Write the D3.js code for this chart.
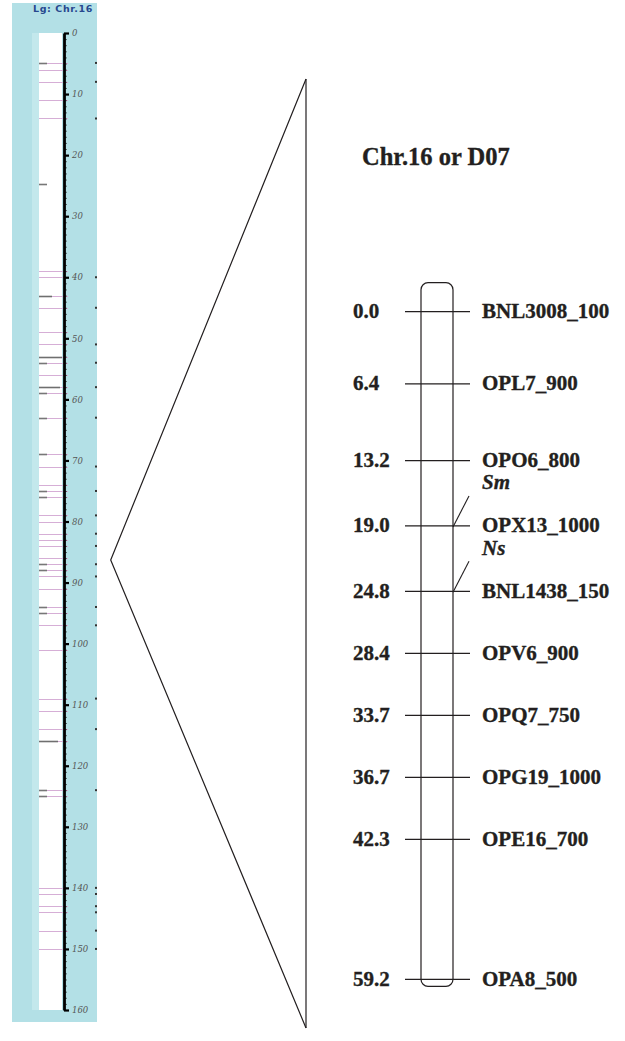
<!DOCTYPE html>
<html>
<head>
<meta charset="utf-8">
<script src="https://cdn.jsdelivr.net/npm/d3@7"></script>
<style>
  body { margin: 0; background: #fff; }
  svg { display: block; }
  .serif { font-family: "Liberation Serif", "Times New Roman", serif; fill: #231f20; stroke: #231f20; stroke-width: 0.35; }
</style>
</head>
<body>
<script>
// left overview panel: whole linkage group (cM)
var overviewTitle = "Lg: Chr.16";
var overviewTicks = d3.range(0, 161, 10);
var overviewLoci = [4.9, 6, 8, 11, 14, 39, 40, 43, 45, 49, 51, 53, 54, 56, 58, 59, 63, 69, 71, 74, 75, 76,
  79, 80, 82, 83, 84, 86, 87, 88, 89, 91, 94, 95, 97, 101, 109, 111, 114, 116, 124, 125,
  140, 141, 143, 144, 147, 150];
var overviewDashes = [4.9, 24.8, 54, 59, 63, 69, 75, 76, 87, 88, 94, 95, 124, 125];
var overviewLongDashes = [43, 53, 58, 116];
var zoomCentre = 86.3; // where the zoom wedge points

// right panel: detailed map
var chrTitle = "Chr.16 or D07";
var markerNames = ["BNL3008_100", "OPL7_900", "OPO6_800", "OPX13_1000", "BNL1438_150",
  "OPV6_900", "OPQ7_750", "OPG19_1000", "OPE16_700", "OPA8_500"];
var markerPos = [0.0, 6.4, 13.2, 19.0, 24.8, 28.4, 33.7, 36.7, 42.3, 59.2];
var qtlNames = ["Sm", "Ns"];
var qtlMarkers = ["OPX13_1000", "BNL1438_150"];

var width = 625, height = 1041;
var svg = d3.select("body").append("svg")
  .attr("width", width)
  .attr("height", height);

// ---------- left panel ----------
var yL = d3.scaleLinear().domain([0, 160]).range([33, 1010]);
var axisX = 64;

svg.append("rect")
  .attr("x", 12).attr("y", 3)
  .attr("width", 85).attr("height", 1019)
  .attr("fill", "#b3e0e6");

svg.append("rect")
  .attr("x", 32).attr("y", 33)
  .attr("width", 7).attr("height", yL(160) - yL(0))
  .attr("fill", "#c3e8ec");

svg.append("rect")
  .attr("x", 39).attr("y", yL(0))
  .attr("width", 23).attr("height", yL(160) - yL(0))
  .attr("fill", "#fff");

svg.append("text")
  .attr("x", 33).attr("y", 12)
  .attr("font-family", "DejaVu Sans, sans-serif")
  .attr("font-weight", "bold")
  .attr("font-size", 9.5)
  .attr("letter-spacing", 0.6)
  .attr("fill", "#27488e")
  .text(overviewTitle);

svg.append("g").selectAll("line")
  .data(overviewLoci)
  .enter().append("line")
  .attr("x1", 39).attr("x2", 68)
  .attr("y1", function(d) { return Math.round(yL(d)) + 0.5; })
  .attr("y2", function(d) { return Math.round(yL(d)) + 0.5; })
  .attr("stroke", "#d6aed6")
  .attr("stroke-width", 1);

svg.append("g").selectAll("line")
  .data(overviewDashes)
  .enter().append("line")
  .attr("x1", 39).attr("x2", 47)
  .attr("y1", function(d) { return Math.round(yL(d)) + 0.5; })
  .attr("y2", function(d) { return Math.round(yL(d)) + 0.5; })
  .attr("stroke", "#777")
  .attr("stroke-width", 1.6);

svg.append("g").selectAll("line")
  .data(overviewLongDashes)
  .enter().append("line")
  .attr("x1", 39).attr("x2", function(d, i) { return [52, 62, 60, 58][i]; })
  .attr("y1", function(d) { return Math.round(yL(d)) + 0.5; })
  .attr("y2", function(d) { return Math.round(yL(d)) + 0.5; })
  .attr("stroke", "#6f6f6f")
  .attr("stroke-width", 1.6);

// bits of clipped labels at the panel edge
svg.append("g").selectAll("rect")
  .data(overviewLoci.filter(function(d, i) { return i % 2 == 0 || d > 130; }))
  .enter().append("rect")
  .attr("x", 95).attr("y", function(d) { return yL(d) - 1; })
  .attr("width", 2).attr("height", 2)
  .attr("fill", "#333");

var minorAxis = d3.axisRight(yL)
  .tickValues(d3.range(0, 161, 1))
  .tickSize(3)
  .tickSizeOuter(0)
  .tickFormat("");
var gMinor = svg.append("g")
  .attr("transform", "translate(" + axisX + ",0)")
  .call(minorAxis);
gMinor.select(".domain").remove();
gMinor.selectAll(".tick line").attr("stroke", "#333").attr("stroke-width", 0.7);

var majorAxis = d3.axisRight(yL)
  .tickValues(overviewTicks)
  .tickSize(5)
  .tickSizeOuter(0)
  .tickPadding(3);
var gMajor = svg.append("g")
  .attr("transform", "translate(" + axisX + ",0)")
  .call(majorAxis);
gMajor.select(".domain").attr("stroke", "#000").attr("stroke-width", 2.8);
gMajor.selectAll(".tick line").attr("stroke", "#000").attr("stroke-width", 2.2);
gMajor.selectAll(".tick text")
  .attr("font-family", "DejaVu Serif, serif")
  .attr("font-style", "italic")
  .attr("font-size", 8.5)
  .attr("fill", "#555");

// ---------- zoom wedge ----------
var wedgeX = 306, wedgeTop = 79, wedgeBottom = 1028;
svg.append("path")
  .attr("d", d3.line()([[wedgeX, wedgeTop], [110.7, yL(zoomCentre)], [wedgeX, wedgeBottom]]))
  .attr("fill", "none")
  .attr("stroke", "#231f20")
  .attr("stroke-width", 1.2);
svg.append("line")
  .attr("x1", wedgeX).attr("x2", wedgeX)
  .attr("y1", wedgeTop).attr("y2", wedgeBottom)
  .attr("stroke", "#231f20")
  .attr("stroke-width", 1.2);

// ---------- right panel ----------
var yR = d3.scaleLinear().domain([0, 59.2]).range([311.7, 979.3]);
var minGap = 62;
var markers = markerPos.map(function(p, i) { return { name: markerNames[i], pos: p, y: yR(p) }; });
for (var i = 1; i < markers.length; i++) {
  markers[i].y = Math.max(markers[i].y, markers[i - 1].y + minGap);
}

svg.append("text")
  .attr("class", "serif")
  .attr("x", 362).attr("y", 165)
  .attr("font-size", 24.5)
  .attr("font-weight", "bold")
  .text(chrTitle);

var chrX = 421, chrW = 32;
var chrTop = markers[0].y - 29, chrBottom = markers[markers.length - 1].y + 7;
svg.append("rect")
  .attr("x", chrX).attr("y", chrTop)
  .attr("width", chrW).attr("height", chrBottom - chrTop)
  .attr("rx", 7).attr("ry", 7)
  .attr("fill", "none")
  .attr("stroke", "#231f20")
  .attr("stroke-width", 1.2);

var gm = svg.append("g").selectAll("g")
  .data(markers)
  .enter().append("g")
  .attr("transform", function(d) { return "translate(0," + d.y + ")"; });

gm.append("line")
  .attr("x1", 405).attr("x2", 470)
  .attr("stroke", "#231f20")
  .attr("stroke-width", 1.2);

gm.append("text")
  .attr("class", "serif")
  .attr("x", 353).attr("y", 6.5)
  .attr("font-size", 21)
  .attr("font-weight", "bold")
  .text(function(d) { return d.pos.toFixed(1); });

gm.append("text")
  .attr("class", "serif")
  .attr("x", 482).attr("y", 6.5)
  .attr("font-size", 21)
  .attr("font-weight", "bold")
  .text(function(d) { return d.name; });

var qtls = qtlNames.map(function(n, i) {
  return { name: n, y: markers.find(function(m) { return m.name == qtlMarkers[i]; }).y };
});
var gq = svg.append("g").selectAll("g")
  .data(qtls)
  .enter().append("g")
  .attr("transform", function(d) { return "translate(0," + d.y + ")"; });
gq.append("line")
  .attr("x1", chrX + chrW).attr("y1", 1)
  .attr("x2", 469).attr("y2", -30)
  .attr("stroke", "#231f20")
  .attr("stroke-width", 1.1);
gq.append("text")
  .attr("class", "serif")
  .attr("x", 482).attr("y", -36.5)
  .attr("font-size", 21)
  .attr("font-weight", "bold")
  .attr("font-style", "italic")
  .text(function(d) { return d.name; });
</script>
</body>
</html>
